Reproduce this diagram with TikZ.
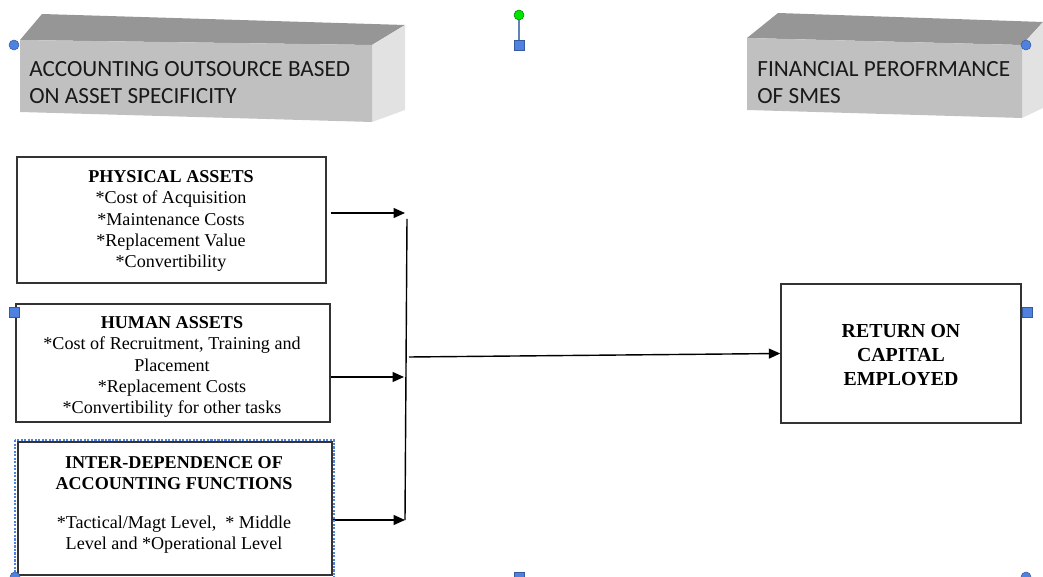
\documentclass[tikz,border=0pt]{standalone}
\usepackage{fontspec}
\setmainfont{Liberation Serif}
\newfontfamily\hdrfont{Carlito}
\usepackage{tikz}
\usetikzlibrary{arrows.meta, positioning, calc}
\definecolor{selblue}{RGB}{79,129,224}
\definecolor{topgray}{RGB}{150,150,150}
\definecolor{frontgray}{RGB}{192,192,192}
\definecolor{sidegray}{RGB}{226,226,226}

\begin{document}
\begin{tikzpicture}[x=0.2mm, y=-0.2mm,
		box/.style={draw=black!80, line width=0.8pt, inner sep=0pt},
		txt/.style={align=center, inner sep=0pt, font=\fontsize{10.3}{12.2}\selectfont},
		hdr/.style={anchor=west, align=left, inner sep=0pt, text=black!90, font=\hdrfont\fontsize{13.2}{15.3}\selectfont},
		arr/.style={-{Triangle[length=2.3mm, width=2mm]}, line width=0.8pt},
		handle/.style={fill=selblue, draw=selblue!70!black, line width=0.3pt}]
	\useasboundingbox (0,0) rectangle (1043,577);

	% First header block
	\fill[topgray] (20,40) -- (42,14) -- (405,25) -- (372,45) -- cycle;
	\fill[sidegray] (372,45) -- (405,25) -- (405,110) -- (372,122) -- cycle;
	\fill[frontgray] (20,40) -- (372,45) -- (372,122) -- (20,112) -- cycle;
	\node[hdr] (hl) at (29,83) {ACCOUNTING OUTSOURCE BASED\\ON ASSET SPECIFICITY};

	% Second header block
	\fill[topgray] (747,38) -- (778,13) -- (1043,22) -- (1022,45) -- cycle;
	\fill[sidegray] (1022,45) -- (1043,22) -- (1043,108) -- (1022,118) -- cycle;
	\fill[frontgray] (747,38) -- (1022,45) -- (1022,118) -- (747,110) -- cycle;
	\node[hdr] (hr) at (757,83) {FINANCIAL PEROFRMANCE\\OF SMES};

	% Asset boxes
	\node[box, minimum width=61.8mm, minimum height=25.2mm] (P) at (171.5,220) {};
	\node[txt] at (171,221) {\textbf{PHYSICAL ASSETS}\\*Cost of Acquisition\\*Maintenance Costs\\*Replacement Value\\*Convertibility};
	\node[box, minimum width=62.8mm, minimum height=23.6mm] (H) at (173,363) {};
	\node[txt] at (172,367) {\textbf{HUMAN ASSETS}\\*Cost of Recruitment, Training and\\Placement\\*Replacement Costs\\*Convertibility for other tasks};
	\node[box, minimum width=62.8mm, minimum height=26.6mm] (I) at (175,508.5) {};
	\node[txt] at (174,505) {\textbf{INTER-DEPENDENCE OF}\\\textbf{ACCOUNTING FUNCTIONS}\\[9.5pt]*Tactical/Magt Level, \ * Middle\\Level and *Operational Level};

	% Outcome box
	\node[box, minimum width=48mm, minimum height=27.8mm] (R) at (901,353.5) {};
	\node[txt, font=\fontsize{11.3}{13.9}\selectfont\bfseries] at (901,355) {RETURN ON\\CAPITAL\\EMPLOYED};

	% Connectors
	\coordinate (j1) at (405,213);
	\coordinate (j2) at (404,377);
	\coordinate (j3) at (405,520);
	\coordinate (top) at (407,219);
	\coordinate (m) at (409,357);
	\draw[arr, shorten <=0.8mm] (P.east |- j1) -- (j1);
	\draw[arr] (H.east |- j2) -- (j2);
	\draw[arr] (I.east |- j3) -- (j3);
	\draw[line width=0.8pt] (top) -- (j3);
	\draw[arr] (m) -- (R.west);

	% Selection handles
	\draw[selblue, dash pattern=on 1.2pt off 0.8pt, line width=0.7pt] (15,440) rectangle (334,580);
	\draw[selblue!60!gray, line width=0.6pt] (519,20) -- (519,40);
	\filldraw[fill=green!90!black, draw=green!50!black, line width=0.3pt] (519,15) circle (1mm);
	\filldraw[handle] (514,40) rectangle (524,50);
	\filldraw[handle] (9,307) rectangle (19,317);
	\filldraw[handle] (1022,307) rectangle (1032,317);
	\filldraw[handle] (514,572) rectangle (524,582);
	\filldraw[handle] (14,45) circle (1mm);
	\filldraw[handle] (1026,45) circle (1mm);
	\filldraw[handle] (15,577) circle (1mm);
	\filldraw[handle] (1026,577) circle (1mm);
\end{tikzpicture}
\end{document}
